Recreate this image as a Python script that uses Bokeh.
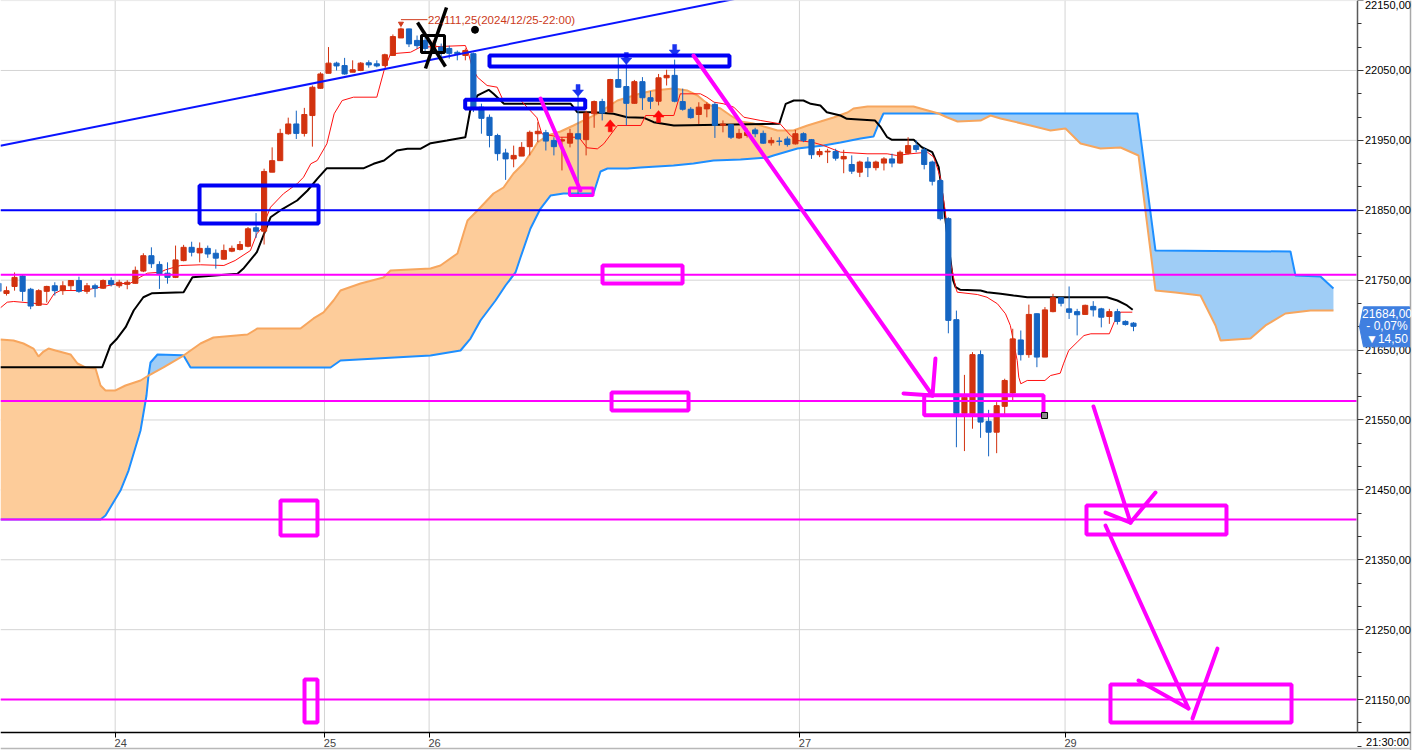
import numpy as np
from bokeh.plotting import figure
from bokeh.models import Range1d, FixedTicker, Label, ColumnDataSource, CustomJSTickFormatter, LinearAxis
from bokeh.embed import file_html
from bokeh.resources import INLINE

# ---------------------------------------------------------------- price data
# 30-minute bars; bar index -1 is the partly visible bar at the left edge
bar_open = [21745.5, 21731, 21741, 21756, 21737, 21714, 21734, 21742, 21735, 21742, 21749.5,
            21734, 21742, 21738.5, 21749.5, 21742, 21744, 21745.5, 21763, 21785, 21772.5,
            21760, 21754, 21778, 21797, 21789, 21795.5, 21788.5, 21780, 21791.5, 21794,
            21798.5, 21825, 21820, 21904.5, 21921, 21959.5, 21973.5, 21960, 21985.5, 22024.5,
            22046, 22060.5, 22057, 22047.5, 22050, 22061, 22059.5, 22057, 22071.5, 22096.5,
            22109.5, 22093, 22093, 22081.5, 22083.5, 22081.5, 22076, 22071.5, 22074, 21997.5,
            21983, 21957, 21932, 21923.5, 21927.5, 21941, 21959.5, 21961, 21950, 21949,
            21946, 21959.5, 21951, 21988, 22005.5, 21990.5, 22037, 22027, 22003, 22034,
            22011, 22006, 22039.5, 22043, 22005.5, 21994.5, 21987, 21995, 22001.5, 21971.5,
            21972.5, 21953.5, 21957, 21965, 21960, 21946.5, 21949, 21952, 21945, 21959.5,
            21951, 21929.5, 21933.5, 21934, 21923.5, 21915.5, 21904.5, 21919, 21911, 21917.5,
            21923.5, 21917.5, 21931.5, 21942.5, 21936.5, 21919, 21892.5, 21838, 21693.5, 21559.5,
            21559, 21643.5, 21548, 21532.5, 21569.5, 21588.5, 21664.5, 21643.5, 21702, 21640,
            21705, 21725, 21709, 21705, 21701, 21712.5, 21709, 21698, 21705, 21691, 21688.5]
bar_high = [21748, 21741, 21761, 21758, 21739, 21737, 21742, 21747, 21748.5, 21750, 21755,
            21746, 21745, 21751, 21754, 21750.5, 21750, 21769.5, 21788.5, 21797, 21777,
            21775.5, 21799.5, 21800.5, 21805, 21804, 21799.5, 21794, 21801, 21799.5, 21806,
            21826, 21846, 21909.5, 21940, 21966.5, 21982.5, 21992.5, 21996.5, 22028.5, 22047.5,
            22083.5, 22062.5, 22068, 22064.5, 22062, 22064.5, 22064.5, 22074, 22101.5, 22111.25,
            22109.75, 22100, 22098.5, 22093, 22088.5, 22085.5, 22078.5, 22081.5, 22075.5, 22002.5,
            21987, 21959.5, 21938, 21942.5, 21947.5, 21964, 21976, 21965, 21954.5, 21954.5,
            21966.5, 22014, 21992.5, 22007, 22009.5, 22038, 22069, 22069, 22036.5, 22040.5,
            22020.5, 22045, 22051, 22065.5, 22024, 21997.5, 22004.5, 22004.5, 22004.5, 21978.5,
            21973.5, 21966.5, 21967, 21968, 21964, 21954.5, 21954.5, 21955.5, 21965, 21961.5,
            21952, 21938, 21938, 21938, 21936.5, 21928.5, 21921, 21926, 21921, 21926,
            21931, 21935.5, 21954.5, 21950, 21940, 21921, 21895, 21840, 21706.5, 21614.5,
            21647, 21649.5, 21564.5, 21575.5, 21609, 21680.5, 21678, 21715, 21702.5, 21711.5,
            21730.5, 21725.5, 21741, 21709, 21715, 21720, 21710.5, 21709, 21709, 21692.5, 21690]
bar_low = [21730, 21728, 21735, 21720, 21708.5, 21713, 21718, 21728, 21729, 21735, 21732,
           21730.5, 21725.5, 21737.5, 21741, 21739, 21737, 21745, 21761.5, 21767.5, 21737.5,
           21745, 21753, 21777, 21784, 21775.5, 21782, 21766.5, 21779.5, 21790, 21792.5,
           21797, 21810.5, 21801, 21904.5, 21921, 21958, 21952, 21955.5, 21941, 22024,
           22046, 22050, 22044, 22047.5, 22049, 22054, 22054.5, 22055.5, 22071.5, 22096.5,
           22083.5, 22081, 22075.5, 22075.5, 22069, 22067, 22064.5, 22064.5, 21990.5, 21959.5,
           21940, 21921, 21893.5, 21911.5, 21927.5, 21928.5, 21947.5, 21935.5, 21928.5, 21907,
           21940, 21873.5, 21928.5, 21968, 21978.5, 21990.5, 22026, 21971.5, 22002.5, 21993.5,
           21995, 22000, 22028.5, 22004.5, 21992.5, 21981, 21973.5, 21983, 21953.5, 21961.5,
           21952, 21952, 21954, 21954.5, 21945, 21942.5, 21942.5, 21941, 21944, 21947.5,
           21923.5, 21926, 21917.5, 21921, 21903, 21902, 21897.5, 21897.5, 21907, 21907,
           21911.5, 21916.5, 21930, 21933, 21908.5, 21885.5, 21835.5, 21674, 21511, 21505.5,
           21537.5, 21524.5, 21498, 21502.5, 21558, 21578, 21635, 21639, 21625.5, 21640,
           21704, 21712.5, 21694.5, 21671, 21701, 21698, 21682.5, 21687.5, 21686.5, 21685, 21677]
bar_close = [21734, 21735, 21754, 21734, 21713, 21735, 21741, 21735, 21742, 21749.5, 21734,
             21742, 21738.5, 21749.5, 21744, 21747, 21747, 21764, 21785, 21773.5, 21759,
             21754, 21779, 21797, 21790, 21795.5, 21787.5, 21781.5, 21792.5, 21795.5, 21801,
             21823.5, 21820, 21905.5, 21921, 21960, 21973.5, 21960, 21987, 22026, 22045,
             22060.5, 22056.5, 22045, 22051, 22060.5, 22058, 22056.5, 22072.5, 22098.5, 22109.5,
             22088, 22085.5, 22081.5, 22087, 22076, 22074.5, 22074, 22078.5, 21997.5, 21981.5,
             21957, 21931, 21923.5, 21928.5, 21940, 21961.5, 21963, 21949, 21941, 21951,
             21960, 21952, 21989, 22005.5, 21989, 22037, 22026, 22003, 22034, 22011,
             22006, 22039.5, 22043, 22006, 21994.5, 21982.5, 21997.5, 22001.5, 21971.5, 21973.5,
             21954.5, 21960, 21961.5, 21959.5, 21946, 21950, 21948.5, 21944, 21959.5, 21950,
             21929.5, 21934, 21934.5, 21924.5, 21927, 21906, 21919, 21911, 21919, 21923.5,
             21917.5, 21933, 21942.5, 21937, 21915.5, 21891.5, 21838, 21692.5, 21559.5, 21582.5,
             21643.5, 21547, 21532.5, 21570.5, 21606.5, 21666, 21643.5, 21701, 21640, 21707.5,
             21725, 21717, 21704, 21700.5, 21714, 21707.5, 21697, 21705, 21691, 21686.5, 21684]

# Ichimoku lines as (bar position, price) points
kijun_x = [-0.75, 11.9, 12.9, 13.75, 14.8, 15.8, 17.0, 18.1, 22.0, 23.1, 28.7, 29.4, 31.1, 32.8,
           34.0, 36.1, 37.4, 38.6, 39.8, 44.4, 45.6, 46.9, 48.5, 49.8, 51.4, 52.7, 54.7, 57.0,
           57.6, 58.5, 58.9, 59.9, 60.5, 61.8, 70.1, 70.9, 73.0, 75.4, 77.1, 79.2, 80.4, 82.9,
           96.0, 96.8, 97.8, 99.0, 99.9, 101.1, 101.9, 103.6, 104.4, 107.9, 108.6, 109.4, 110.0,
           112.7, 113.7, 115.0, 115.8, 116.4, 117.0, 117.6, 117.9, 118.5, 121.0, 121.8, 123.5,
           125.1, 126.8, 136.7, 138.0, 139.2, 139.9]
kijun = [21625.5, 21625.5, 21656.5, 21666.6, 21682.7, 21706.6, 21725.6, 21731.4, 21732.8, 21754.3,
         21759.1, 21766.3, 21790.0, 21840.0, 21849.7, 21864.0, 21878.3, 21895.0, 21910.2, 21910.2,
         21916.5, 21921.2, 21935.5, 21937.9, 21937.9, 21946.0, 21949.8, 21954.5, 21992.7, 22014.2,
         22016.6, 22022.3, 22016.6, 22002.3, 22002.3, 21990.3, 21990.3, 21988.0, 21983.1, 21982.3,
         21976.0, 21971.3, 21973.7, 22002.3, 22007.0, 22007.0, 22002.3, 21999.9, 21990.3, 21985.6,
         21980.9, 21978.4, 21968.8, 21954.5, 21950.8, 21950.8, 21940.2, 21933.1, 21911.6, 21859.3,
         21802.0, 21749.5, 21740.0, 21736.2, 21735.2, 21732.8, 21730.5, 21728.1, 21725.6, 21725.6,
         21720.9, 21713.8, 21707.6]

tenkan_x = [-0.75, 0.09, 0.9, 5.06, 5.9, 6.7, 9.6, 10.65, 13.75, 15.4, 16.6, 17.5, 19.1, 19.75,
            21.6, 24.1, 27.0, 28.4, 30.3, 31.1, 31.8, 32.8, 34.4, 36.1, 36.9, 37.8, 38.6, 39.8,
            40.7, 41.7, 43.1, 46.0, 46.9, 47.7, 50.2, 51.4, 57.0, 57.4, 57.85, 58.5, 59.7, 60.95,
            61.6, 63.9, 65.9, 66.5, 68.8, 71.1, 72.1, 73.4, 74.2, 75.9, 78.8, 79.4, 82.9, 83.7,
            86.2, 87.0, 87.9, 89.1, 90.35, 91.6, 93.7, 96.1, 97.4, 98.2, 100.1, 101.5, 103.6,
            106.9, 109.4, 110.6, 112.3, 114.4, 115.2, 116.0, 116.6, 117.3, 117.9, 118.1, 120.6,
            121.8, 123.1, 124.1, 124.7, 125.55, 125.75, 126.0, 126.8, 129.0, 129.7, 130.9, 131.3,
            131.95, 133.0, 133.85, 134.7, 137.0, 137.6, 138.4, 139.85]
tenkan = [21710.5, 21718.5, 21719.5, 21715.2, 21730.5, 21735.2, 21735.2, 21737.7, 21744.8, 21745.7,
          21754.3, 21760.0, 21761.4, 21764.8, 21771.0, 21772.0, 21771.0, 21778.1, 21792.4, 21816.3,
          21825.8, 21854.4, 21873.6, 21887.9, 21897.3, 21916.5, 21921.2, 21945.1, 21988.0, 22007.0,
          22011.8, 22011.8, 22050.0, 22073.8, 22076.1, 22083.3, 22085.7, 22073.8, 22054.7, 22040.4,
          22028.5, 22026.1, 22009.5, 22007.0, 21982.3, 21959.4, 21954.5, 21954.5, 21939.4, 21937.9,
          21945.1, 21971.3, 21971.3, 21985.6, 21985.6, 22016.6, 22016.6, 22011.8, 22004.6, 22002.3,
          21997.5, 21983.1, 21978.4, 21973.7, 21957.0, 21949.8, 21947.4, 21942.7, 21933.1, 21930.8,
          21930.8, 21928.4, 21930.8, 21933.1, 21925.9, 21897.3, 21849.7, 21773.4, 21740.0, 21732.8,
          21729.5, 21725.6, 21716.2, 21701.9, 21685.2, 21635.1, 21611.2, 21601.8, 21606.5, 21606.5,
          21613.6, 21616.9, 21630.3, 21649.4, 21661.3, 21670.8, 21673.3, 21673.3, 21689.9, 21704.2,
          21704.2]

span_a_x = [-0.75, 0.87, 2.11, 3.35, 3.98, 4.6, 5.22, 6.09, 7.95, 8.82, 9.81, 11.06, 11.68, 12.3,
            13.54, 14.78, 16.65, 17.64, 19.5, 21.99, 24.1, 25.71, 29.94, 31.18, 36.52, 38.14,
            39.38, 40.62, 41.49, 43.98, 46.83, 47.7, 52.67, 53.91, 56.02, 56.77, 57.27, 58.51,
            60.5, 61.74, 62.98, 64.22, 65.34, 65.96, 67.2, 68.82, 70.43, 73.42, 75.9, 78.76,
            80.37, 82.86, 84.6, 85.84, 86.58, 87.45, 88.7, 89.94, 91.18, 92.8, 94.53, 95.78,
            97.76, 99.5, 101.12, 102.73, 104.47, 105.22, 106.96, 112.67, 115.78, 116.89, 118.14,
            121.0, 122.24, 123.48, 127.2, 129.69, 131.55, 133.42, 135.9, 138.39, 140.62, 142.73,
            145.22, 148.32, 150.19, 150.81, 154.53, 156.4, 158.88, 161.99, 164.84]
span_a = [21665.1, 21663.7, 21659.4, 21652.2, 21640.8, 21647.9, 21652.2, 21649.4, 21643.7, 21630.8,
          21625.1, 21623.6, 21599.3, 21592.2, 21592.2, 21599.3, 21606.5, 21613.6, 21625.1, 21642.2,
          21659.4, 21668.0, 21672.3, 21680.9, 21680.9, 21695.2, 21703.8, 21720.9, 21735.2, 21745.2,
          21753.8, 21763.8, 21766.7, 21771.0, 21788.2, 21816.8, 21835.4, 21849.7, 21874.0, 21882.6,
          21902.6, 21916.9, 21935.5, 21946.9, 21957.0, 21962.7, 21971.3, 21988.4, 22007.0, 22017.0,
          22021.3, 22024.2, 22021.3, 22014.2, 22007.0, 21999.9, 21995.6, 21985.6, 21977.0, 21974.1,
          21968.4, 21964.1, 21964.1, 21971.3, 21977.0, 21982.7, 21989.9, 21995.6, 21998.5, 21998.5,
          21988.4, 21982.7, 21977.0, 21978.4, 21985.6, 21981.3, 21971.3, 21964.1, 21967.0, 21945.5,
          21938.4, 21939.8, 21928.4, 21735.2, 21732.3, 21728.1, 21685.2, 21663.7, 21666.5, 21685.2,
          21702.3, 21706.6, 21706.6]

span_b_x = [-0.75, 11.68, 12.3, 14.16, 15.16, 16.65, 17.39, 17.64, 17.89, 18.76, 21.86, 21.99,
            22.86, 40.25, 41.49, 52.67, 56.4, 57.64, 58.88, 60.75, 61.99, 63.23, 63.85, 65.09,
            66.34, 67.58, 69.19, 72.92, 73.79, 74.66, 77.14, 78.76, 82.86, 85.34, 87.83, 91.18,
            94.53, 95.28, 98.26, 101.49, 103.6, 106.09, 107.7, 108.2, 108.94, 115.78, 140.5,
            142.73, 159.5, 160.12, 163.23, 164.84]
span_b = [21407.6, 21407.6, 21413.3, 21449.1, 21477.7, 21534.9, 21585.0, 21613.6, 21632.2, 21643.7,
          21642.5, 21642.2, 21625.1, 21625.1, 21635.1, 21642.2, 21649.4, 21666.5, 21692.3, 21720.9,
          21742.4, 21761.0, 21782.4, 21823.9, 21852.5, 21871.1, 21874.0, 21874.0, 21905.5, 21909.8,
          21909.8, 21911.2, 21914.1, 21917.0, 21921.2, 21922.6, 21925.5, 21928.4, 21938.4, 21942.7,
          21947.0, 21952.7, 21955.5, 21969.8, 21988.4, 21988.4, 21988.4, 21792.4, 21791.0, 21756.7,
          21755.3, 21738.1]
# bar positions where the two spans meet (the cloud changes colour there)
span_cross_x = [17.64, 21.99, 115.78]

# axis ticks
price_ticks = list(range(21150, 22151, 100))
date_ticks = [13.5, 39.5, 52.5, 98.5, 131.5]
date_labels = ["24", "25", "26", "27", "29"]

# signal arrows: bar, price at the arrow tip
sell_arrow_bar = [71, 77, 83]
sell_arrow_tip = [22012.8, 22058.5, 22070.0]
buy_arrow_bar = [75, 81]
buy_arrow_tip = [21979.4, 21992.7]

# hand-drawn chart objects (bar position / price anchors)
level_magenta = [21757.75, 21577.0, 21407.5, 21150.0]
level_blue = 21850.0
trend_x = [-0.75, 98.63]
trend_y = [21942.2, 22171.1]
blue_box_l = [23.98, 60.0, 56.98]
blue_box_r = [38.76, 89.81, 71.89]
blue_box_t = [21885.4, 22071.4, 22008.0]
blue_box_b = [21831.1, 22055.7, 21995.6]
mag_box_l = [74.04, 75.16, 34.04, 37.02, 114.0, 134.16, 137.14, 69.94]
mag_box_r = [83.98, 84.72, 38.63, 38.63, 128.82, 151.55, 159.63, 72.86]
mag_box_t = [21771.0, 21589.3, 21434.8, 21178.7, 21585.4, 21427.6, 21171.6, 21881.9]
mag_box_b = [21745.2, 21563.6, 21384.7, 21117.2, 21556.8, 21386.2, 21117.2, 21871.1]
mag_box_w = [4, 4, 4, 4, 4, 4, 4, 3]
mag_seg_x0 = [66.34, 85.34, 111.43, 115.4, 135.03, 142.73, 136.52, 136.52, 140.62, 150.43]
mag_seg_y0 = [22009.9, 22071.4, 21587.9, 21637.9, 21569.3, 21446.2, 21417.6, 21399.0, 21177.3, 21223.0]
mag_seg_x1 = [71.3, 115.03, 115.03, 115.03, 139.63, 139.63, 139.63, 146.83, 146.83, 147.33]
mag_seg_y1 = [21878.3, 21585.0, 21585.0, 21585.0, 21403.3, 21403.3, 21403.3, 21137.2, 21137.2, 21122.9]
cross_x0 = [51.06, 54.66]
cross_y0 = [22118.6, 22140.1]
cross_x1 = [54.53, 52.05]
cross_y1 = [22055.7, 22052.8]
mark_box = (51.55, 54.41, 22100.0, 22075.7)
dot_bar, dot_price = 58.2, 22108.2
high_bar = 49
last_price = 21684.0
last_change = -14.50
handle_bar, handle_price = 128.95, 21556.4

# ---------------------------------------------------------------- geometry
CANVAS_W, CANVAS_H = 1416, 750
PLOT_W, PLOT_H = 1356, 732           # price area; the scales sit to the right / below
BAR_PX = 8.05                         # pixels per 30-minute bar
X0 = -0.745                           # bar position at the left edge
Y_TOP = 22150.1                       # price at the top edge
PX_Y = 1.4306                         # price units per pixel

X_END = X0 + CANVAS_W / BAR_PX
Y_BOT = Y_TOP - CANVAS_H * PX_Y
PLOT_R = X0 + PLOT_W / BAR_PX
PLOT_B = Y_TOP - PLOT_H * PX_Y


def bx(px):
    return X0 + px / BAR_PX


def py(px):
    return Y_TOP - px * PX_Y


UP, DOWN = "#d2320f", "#1565c2"
ORANGE_FILL, ORANGE_LINE = "#fdcc9a", "#f7a65e"
BLUE_FILL, BLUE_LINE = "#9fcdf6", "#1e8fff"

p = figure(frame_width=CANVAS_W, frame_height=CANVAS_H,
           x_range=Range1d(X0, X_END), y_range=Range1d(Y_BOT, Y_TOP),
           x_axis_location=None, y_axis_location=None,
           output_backend="svg", toolbar_location=None, min_border=0)
p.background_fill_color = "white"
p.border_fill_color = "white"
p.outline_line_color = None
p.xgrid.visible = False
p.ygrid.visible = False

# grid lines at the scale ticks, limited to the price area
p.segment(x0=[X0] * len(price_ticks), y0=price_ticks, x1=[PLOT_R] * len(price_ticks), y1=price_ticks,
          line_color="#d4d4d4", line_width=1)
p.segment(x0=date_ticks, y0=[PLOT_B] * len(date_ticks), x1=date_ticks, y1=[Y_TOP] * len(date_ticks),
          line_color="#d4d4d4", line_width=1)

# price scale
yax = LinearAxis(fixed_location=bx(PLOT_W + 0.5), bounds=(PLOT_B, Y_TOP))
yax.ticker = FixedTicker(ticks=price_ticks,
                         minor_ticks=[t + k * 100 / 3 for t in range(21050, 22151, 100) for k in (1, 2)])
yax.formatter = CustomJSTickFormatter(code="return tick.toFixed(2).replace('.', ',')")
yax.major_label_text_font = "Liberation Sans"
yax.major_label_text_font_size = "11px"
yax.major_label_text_color = "black"
yax.major_label_standoff = 2
yax.major_tick_in = 0
yax.major_tick_out = 6
yax.minor_tick_in = 0
yax.minor_tick_out = 4
yax.axis_line_color = "#5a5a5a"
yax.axis_line_width = 1.5
yax.major_tick_line_color = "#333333"
yax.minor_tick_line_color = "#333333"
p.add_layout(yax, "right")

# date scale: tick marks on the day boundaries, day numbers just to their right
xax = LinearAxis(fixed_location=PLOT_B, bounds=(X0, bx(1410)))
xax.ticker = FixedTicker(ticks=date_ticks, minor_ticks=[])
xax.major_label_text_color = None
xax.major_tick_in = 0
xax.major_tick_out = 5
xax.axis_line_color = "black"
xax.axis_line_width = 1.5
p.add_layout(xax, "below")

label_ticks = [t + 0.68 for t in date_ticks]
xlab = LinearAxis(fixed_location=PLOT_B, bounds=(X0, bx(1410)))
xlab.ticker = FixedTicker(ticks=label_ticks, minor_ticks=[])
xlab.major_label_overrides = {float(t): s for t, s in zip(label_ticks, date_labels)}
xlab.major_label_text_font = "Liberation Sans Narrow, Liberation Sans"
xlab.major_label_text_font_size = "11px"
xlab.major_label_standoff = 1
xlab.major_tick_in = 0
xlab.major_tick_out = 5
xlab.major_tick_line_color = None
xlab.axis_line_color = None
p.add_layout(xlab, "below")

# panel borders
p.segment(x0=[bx(1410)], y0=[Y_BOT], x1=[bx(1410)], y1=[Y_TOP], line_color="#a8a8a8", line_width=1.5)
p.segment(x0=[X0], y0=[py(748)], x1=[bx(1410)], y1=[py(748)], line_color="#b8b8b8", line_width=1.5)

# ---------------------------------------------------------------- cloud
bounds = [span_a_x[0]] + span_cross_x + [span_a_x[-1]]
cloud_xs, cloud_ys, cloud_colors = [], [], []
for k in range(len(bounds) - 1):
    lo, hi = bounds[k] - 1e-6, bounds[k + 1] + 1e-6
    a_pts = [(x, y) for x, y in zip(span_a_x, span_a) if lo <= x <= hi]
    b_pts = [(x, y) for x, y in zip(span_b_x, span_b) if lo <= x <= hi][::-1]
    pts = a_pts + b_pts
    cloud_xs.append([q[0] for q in pts])
    cloud_ys.append([q[1] for q in pts])
    cloud_colors.append(ORANGE_FILL if k % 2 == 0 else BLUE_FILL)
p.patches(cloud_xs, cloud_ys, fill_color=cloud_colors, line_color=None)
p.line(span_b_x, span_b, line_color=BLUE_LINE, line_width=2)
p.line(span_a_x, span_a, line_color=ORANGE_LINE, line_width=2)

# ---------------------------------------------------------------- conversion lines
p.line(kijun_x, kijun, line_color="black", line_width=2)
p.line(tenkan_x, tenkan, line_color="#ff1010", line_width=1)

# ---------------------------------------------------------------- candles
o = np.array(bar_open)
h = np.array(bar_high)
l = np.array(bar_low)
c = np.array(bar_close)
idx = np.arange(-1, len(o) - 1)
colors = [UP if cc > oo else DOWN for oo, cc in zip(o, c)]
src = ColumnDataSource(dict(x=idx, h=h, l=l, top=np.maximum(o, c), bottom=np.minimum(o, c), color=colors))
p.segment(x0="x", y0="h", x1="x", y1="l", line_color="color", line_width=1, source=src)
p.vbar(x="x", width=0.64, top="top", bottom="bottom", fill_color="color", line_color="color",
       line_width=1, source=src)

# ---------------------------------------------------------------- levels and trend line
n_lv = len(level_magenta)
p.segment(x0=[X0] * n_lv, y0=level_magenta, x1=[PLOT_R] * n_lv, y1=level_magenta,
          line_color="#ff00ff", line_width=2)
p.segment(x0=[X0], y0=[level_blue], x1=[PLOT_R], y1=[level_blue], line_color="#0000ff", line_width=2)
p.line(trend_x, trend_y, line_color="#0a14ff", line_width=2)

# ---------------------------------------------------------------- signal arrows
def arrow(bar, tip, down):
    s = 1 if down else -1
    shape = [(0, 0), (5.5, 6.5), (2, 6.5), (2, 12), (-2, 12), (-2, 6.5), (-5.5, 6.5)]
    return ([bar + dx / BAR_PX for dx, _ in shape], [tip + s * dy * PX_Y for _, dy in shape])


sx, sy = zip(*[arrow(b, t, True) for b, t in zip(sell_arrow_bar, sell_arrow_tip)])
p.patches(list(sx), list(sy), fill_color="#1a33f0", line_color="#1a33f0", line_width=0.5)
ux, uy = zip(*[arrow(b, t, False) for b, t in zip(buy_arrow_bar, buy_arrow_tip)])
p.patches(list(ux), list(uy), fill_color="#ff0a0a", line_color="#ff0a0a", line_width=0.5)

# ---------------------------------------------------------------- drawn objects
p.quad(left=blue_box_l, right=blue_box_r, top=blue_box_t, bottom=blue_box_b,
       fill_color=None, line_color="#0000f5", line_width=4)
p.quad(left=mag_box_l, right=mag_box_r, top=mag_box_t, bottom=mag_box_b,
       fill_color=None, line_color="#ff00ff", line_width=mag_box_w)
p.segment(x0=mag_seg_x0, y0=mag_seg_y0, x1=mag_seg_x1, y1=mag_seg_y1,
          line_color="#ff00ff", line_width=4, line_cap="round")
p.segment(x0=cross_x0, y0=cross_y0, x1=cross_x1, y1=cross_y1, line_color="black", line_width=3.5)
p.quad(left=[mark_box[0]], right=[mark_box[1]], top=[mark_box[2]], bottom=[mark_box[3]],
       fill_color=None, line_color="black", line_width=3)
p.scatter([dot_bar], [dot_price], size=7, color="black")
p.scatter([handle_bar], [handle_price], marker="square", size=6, fill_color="#8a8a8a",
          line_color="black")

# high marker and its label
hi_val = bar_high[high_bar + 1]
label_y = hi_val + 8 * PX_Y
p.segment(x0=[high_bar], y0=[label_y], x1=[high_bar + 3.3], y1=[label_y], line_color="#d03a1c",
          line_width=1)
p.scatter([high_bar], [hi_val + 4 * PX_Y], marker="inverted_triangle", size=5, color="#d03a1c")
hi_txt = f"{int(hi_val) // 1000},{int(hi_val) % 1000:03d},{int(round(hi_val % 1 * 100)):02d}"
p.add_layout(Label(x=high_bar + 3.35, y=label_y, text=f"{hi_txt}(2024/12/25-22:00)",
                   text_color="#cc3a1a", text_font="Liberation Sans", text_font_size="11.5px",
                   text_baseline="middle", text_align="left"))

# last-price tag on the price scale
tag_shape = [(1363, -19.5), (1409, -19.5), (1409, 20.5), (1363, 20.5), (1359, 0.5)]
p.patch([bx(x) for x, _ in tag_shape], [last_price - dy * PX_Y for _, dy in tag_shape],
        fill_color="#3f7fe0", line_color="#3f7fe0", level="overlay")
pct = last_change / (last_price - last_change) * 100
tag_lines = [f"{last_price:.2f}".replace(".", ","),
             f"- {abs(pct):.2f}%".replace(".", ","),
             "\u25bc" + f"{abs(last_change):.2f}".replace(".", ",")]
for k, txt in enumerate(tag_lines):
    p.add_layout(Label(x=bx(1386.5), y=last_price + (13 - 13 * k) * PX_Y, text=txt,
                       text_color="white", text_font="Liberation Sans", text_font_size="12px",
                       text_align="center", text_baseline="middle", level="overlay"))

# session-time stamp under the price scale
p.add_layout(Label(x=bx(1387), y=py(741), text="21:30:00",
                   text_font="Liberation Sans Narrow, Liberation Sans", text_font_size="11px",
                   text_align="center", text_baseline="middle", text_color="black"))

open("out.html", "w").write(file_html(p, INLINE))
